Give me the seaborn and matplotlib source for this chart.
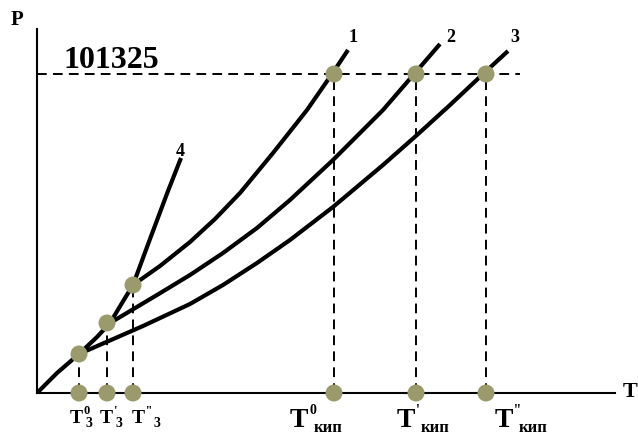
import matplotlib
matplotlib.use("Agg")
import matplotlib.pyplot as plt
import seaborn as sns
import pandas as pd

# vapour pressure curves (T, P in chart units)
curve4_T = [0, 20, 42, 60, 73, 85, 96, 113, 131, 144]
curve4_P = [0, 20, 39, 56, 70, 90, 108, 154, 202, 235]
curve1_T = [96, 123, 153, 178, 203, 236, 270, 295, 311]
curve1_P = [108, 127, 151, 174, 200, 240, 283, 319, 343]
curve2_T = [73, 120, 153, 186, 220, 253, 296, 346, 378, 403]
curve2_P = [70, 98, 118, 140, 165, 193, 233, 283, 320, 349]
curve3_T = [42, 106, 153, 186, 220, 253, 296, 346, 380, 413, 446, 471]
curve3_P = [39, 67, 89, 108, 130, 153, 186, 228, 258, 288, 319, 342]

# triple points and boiling points
triple_T = [42, 70, 96]
triple_P = [39, 70, 108]
boil_T = [297, 379, 449]
P_atm = 319
P_atm_label = "101325"

sns.set_style("white")
plt.rcParams["font.family"] = ["Liberation Serif", "DejaVu Serif"]
plt.rcParams["font.weight"] = "bold"

fig = plt.figure(figsize=(6.38, 4.36), dpi=100)
ax = fig.add_axes([37 / 638, 43 / 436, 578 / 638, 364 / 436])

dash = (0, (5, 3.2))
ax.plot([0, 483], [P_atm, P_atm], color="black", lw=1.4, ls=dash, zorder=1)
for t in boil_T:
    ax.plot([t, t], [0, P_atm], color="black", lw=1.4, ls=dash, zorder=1)
for t, p in zip(triple_T, triple_P):
    ax.plot([t, t], [0, p], color="black", lw=1.4, ls=dash, zorder=1)

curves = [
    (curve1_T, curve1_P),
    (curve2_T, curve2_P),
    (curve3_T, curve3_P),
    (curve4_T, curve4_P),
]
for T, P in curves:
    df = pd.DataFrame({"T": T, "P": P})
    sns.lineplot(data=df, x="T", y="P", sort=False, ax=ax, color="black",
                 lw=3.0, solid_joinstyle="round", solid_capstyle="butt", zorder=2)

pts = pd.DataFrame({
    "T": triple_T + triple_T + boil_T + boil_T,
    "P": triple_P + [0] * 3 + [P_atm] * 3 + [0] * 3,
})
sns.scatterplot(data=pts, x="T", y="P", ax=ax, color="#9b9a6c", s=150,
                edgecolor="none", zorder=3, clip_on=False)

ax.set_xlim(0, 578)
ax.set_ylim(0, 364)
ax.set_xticks([])
ax.set_yticks([])
ax.set_xlabel("")
ax.set_ylabel("")
for side in ["top", "right"]:
    ax.spines[side].set_visible(False)
for side in ["left", "bottom"]:
    ax.spines[side].set_color("black")
    ax.spines[side].set_linewidth(1.5)

kw = dict(fontweight="bold", color="black", clip_on=False)
ax.text(-20, 373, "P", fontsize=15, ha="center", va="center", **kw)
ax.text(586, 1, "T", fontsize=16, ha="left", va="center", **kw)
ax.text(26, 325, P_atm_label, fontsize=23, ha="left", va="baseline", **kw)

for txt, x, y in [("1", 316, 355), ("2", 414, 355), ("3", 478, 355), ("4", 143, 241)]:
    ax.text(x, y, txt, fontsize=13, ha="center", va="center", **kw)

# triple point labels
for x, sup, sub_x in [(33, "0", 49), (63, "'", 78), (95, "''", 117)]:
    ax.text(x, -30, "T", fontsize=14, ha="left", va="baseline", **kw)
    ax.text(x + 13, -21, sup, fontsize=9, ha="left", va="baseline", **kw)
    ax.text(sub_x, -34, "3", fontsize=10, ha="left", va="baseline", **kw)

# boiling point labels
for x, sup in [(253, "0"), (360, "'"), (458, "''")]:
    ax.text(x, -34, "T", fontsize=20, ha="left", va="baseline", **kw)
    ax.text(x + 19, -21, sup, fontsize=10, ha="left", va="baseline", **kw)
    ax.text(x + 24, -39, "кип", fontsize=12, ha="left", va="baseline", **kw)

fig.savefig("out.png", dpi=100)
